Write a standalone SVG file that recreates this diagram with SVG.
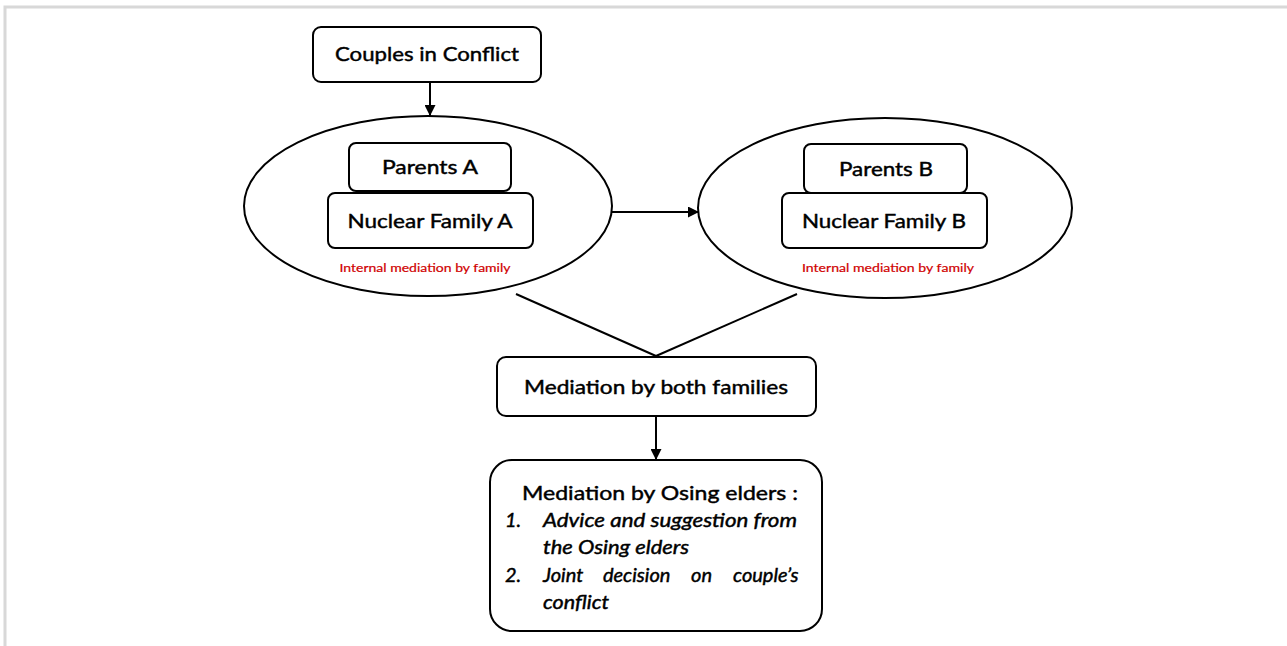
<svg xmlns="http://www.w3.org/2000/svg" width="1287" height="646" viewBox="0 0 1287 646">
<defs>
<marker id="ah" viewBox="0 0 10 10" refX="10" refY="5" markerWidth="11" markerHeight="11" markerUnits="userSpaceOnUse" orient="auto">
<path d="M0,0 L10,5 L0,10 z" fill="#000"/>
</marker>
<style>
.box{fill:#fff;stroke:#000;stroke-width:2}
.ell{fill:#fff;stroke:#000;stroke-width:2}
.t{font-family:Lato,"Open Sans","Liberation Sans",sans-serif;font-size:20px;fill:#000;stroke:#000;stroke-width:0.45;text-anchor:middle}
.li{font-family:Lato,"Open Sans","Liberation Sans",sans-serif;font-size:20px;fill:#000;stroke:#000;stroke-width:0.45;font-style:italic}
.red{font-family:Lato,"Open Sans","Liberation Sans",sans-serif;font-size:12px;fill:#d00000;stroke:#d00000;stroke-width:0.2;text-anchor:middle}
.c{stroke:#000;stroke-width:2;fill:none}
</style>
</defs>
<rect width="1287" height="646" fill="#fff"/>
<path d="M5,646 V7 H1287" fill="none" stroke="#d8d8d8" stroke-width="3"/>
<g id="connectors">
<line class="c" x1="430" y1="82" x2="430" y2="116" marker-end="url(#ah)"/>
<line class="c" x1="612" y1="212" x2="699" y2="212" marker-end="url(#ah)"/>
<line class="c" x1="516" y1="294" x2="656" y2="356"/>
<line class="c" x1="797" y1="294" x2="656" y2="356"/>
<line class="c" x1="656" y1="416" x2="656" y2="460" marker-end="url(#ah)"/>
</g>
<g id="couples">
<rect class="box" x="313" y="27" width="228" height="55" rx="8"/>
<text class="t" x="427" y="61" textLength="184" lengthAdjust="spacingAndGlyphs">Couples in Conflict</text>
</g>
<g id="familyA">
<ellipse class="ell" cx="428" cy="206" rx="184" ry="90"/>
<g id="parentsA">
<rect class="box" x="349" y="143" width="162" height="48" rx="7"/>
<text class="t" x="430" y="174" textLength="96" lengthAdjust="spacingAndGlyphs">Parents A</text>
</g>
<g id="nuclearA">
<rect class="box" x="328" y="193" width="205" height="55" rx="7"/>
<text class="t" x="430" y="228" textLength="165" lengthAdjust="spacingAndGlyphs">Nuclear Family A</text>
</g>
<text class="red" x="425" y="272" textLength="171" lengthAdjust="spacingAndGlyphs">Internal mediation by family</text>
</g>
<g id="familyB">
<ellipse class="ell" cx="885" cy="208" rx="187" ry="90"/>
<g id="parentsB">
<rect class="box" x="804" y="144" width="163" height="49" rx="7"/>
<text class="t" x="886" y="176" textLength="94" lengthAdjust="spacingAndGlyphs">Parents B</text>
</g>
<g id="nuclearB">
<rect class="box" x="782" y="193" width="205" height="55" rx="7"/>
<text class="t" x="884" y="228" textLength="164" lengthAdjust="spacingAndGlyphs">Nuclear Family B</text>
</g>
<text class="red" x="888" y="272" textLength="172" lengthAdjust="spacingAndGlyphs">Internal mediation by family</text>
</g>
<g id="both">
<rect class="box" x="497" y="357" width="319" height="59" rx="9"/>
<text class="t" x="656" y="394" textLength="264" lengthAdjust="spacingAndGlyphs">Mediation by both families</text>
</g>
<g id="elders">
<rect class="box" x="490" y="460" width="332" height="171" rx="22"/>
<text class="t" x="660" y="500" textLength="276" lengthAdjust="spacingAndGlyphs">Mediation by Osing elders :</text>
<text class="li" x="505" y="527">1.</text>
<text class="li" x="543" y="527" textLength="254" lengthAdjust="spacingAndGlyphs">Advice and suggestion from</text>
<text class="li" x="543" y="554" textLength="146" lengthAdjust="spacingAndGlyphs">the Osing elders</text>
<text class="li" x="505" y="582">2.</text>
<text class="li" y="582"><tspan x="543">Joint</tspan><tspan x="603">decision</tspan><tspan x="691">on</tspan><tspan x="733">couple’s</tspan></text>
<text class="li" x="543" y="609" textLength="66" lengthAdjust="spacingAndGlyphs">conflict</text>
</g>
</svg>
